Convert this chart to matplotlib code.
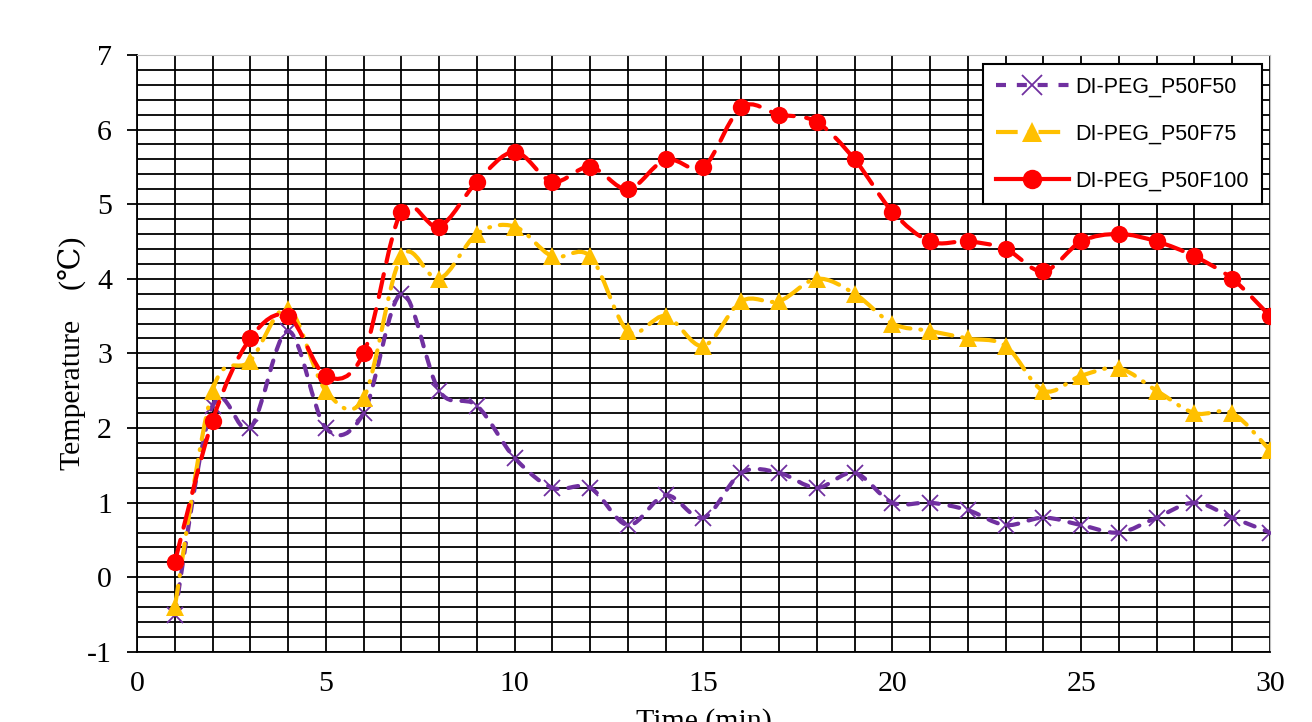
import numpy as np
import matplotlib
matplotlib.use("Agg")
import matplotlib.pyplot as plt
from matplotlib.path import Path
from matplotlib.patches import PathPatch
from matplotlib.lines import Line2D
from matplotlib.ticker import MultipleLocator

# データ
time_min = list(range(1, 31))
labels = ["DI-PEG_P50F50", "DI-PEG_P50F75", "DI-PEG_P50F100"]
p50f50 = [-0.5, 2.3, 2.0, 3.3, 2.0, 2.2, 3.8, 2.5, 2.3, 1.6,
          1.2, 1.2, 0.7, 1.1, 0.8, 1.4, 1.4, 1.2, 1.4, 1.0,
          1.0, 0.9, 0.7, 0.8, 0.7, 0.6, 0.8, 1.0, 0.8, 0.6]
p50f75 = [-0.4, 2.5, 2.9, 3.6, 2.5, 2.4, 4.3, 4.0, 4.6, 4.7,
          4.3, 4.3, 3.3, 3.5, 3.1, 3.7, 3.7, 4.0, 3.8, 3.4,
          3.3, 3.2, 3.1, 2.5, 2.7, 2.8, 2.5, 2.2, 2.2, 1.7]
p50f100 = [0.2, 2.1, 3.2, 3.5, 2.7, 3.0, 4.9, 4.7, 5.3, 5.7,
           5.3, 5.5, 5.2, 5.6, 5.5, 6.3, 6.2, 6.1, 5.6, 4.9,
           4.5, 4.5, 4.4, 4.1, 4.5, 4.6, 4.5, 4.3, 4.0, 3.5]

colors = ["#7030A0", "#FFC000", "#FF0000"]
markers = ["x", "^", "o"]
msizes = [12, 12.5, 12.5]
dashes = [(0, (2.4, 2.6)), (0, (5.2, 2.4, 0.2, 2.4)), (0, (5.6, 3.0))]

plt.rcParams["font.family"] = ["Liberation Serif", "DejaVu Serif"]
plt.rcParams["axes.unicode_minus"] = False


# Excel風のスムージング線（ベジェ曲線）
def smooth_path(x, y):
    pts = np.column_stack([x, y]).astype(float)
    ext = np.vstack([pts[0], pts, pts[-1]])
    verts = [pts[0]]
    codes = [Path.MOVETO]
    for i in range(len(pts) - 1):
        p0, p1, p2, p3 = ext[i], ext[i + 1], ext[i + 2], ext[i + 3]
        c1 = p1 + (p2 - p0) / 6.0
        c2 = p2 - (p3 - p1) / 6.0
        verts += [c1, c2, p2]
        codes += [Path.CURVE4] * 3
    return Path(verts, codes)


fig = plt.figure(figsize=(13.12, 7.22), dpi=100)
ax = fig.add_axes([0.1044, 0.097, 0.8636, 0.827])

ax.set_xlim(0, 30)
ax.set_ylim(-1, 7)
ax.xaxis.set_major_locator(MultipleLocator(5))
ax.xaxis.set_minor_locator(MultipleLocator(1))
ax.yaxis.set_major_locator(MultipleLocator(1))
ax.yaxis.set_minor_locator(MultipleLocator(0.2))
ax.grid(which="both", color="black", linewidth=1.3)
ax.set_axisbelow(True)

for s in ["top", "right"]:
    ax.spines[s].set_color("#bfbfbf")
for s in ["left", "bottom"]:
    ax.spines[s].set_color("black")
    ax.spines[s].set_linewidth(1.3)

ax.tick_params(axis="y", which="major", direction="out", length=7, width=1.3,
               pad=11, labelsize=21.5)
ax.tick_params(axis="y", which="minor", length=0)
ax.tick_params(axis="x", which="both", length=0, pad=14, labelsize=21.5)

series = [p50f50, p50f75, p50f100]
handles = []
for i, ys in enumerate(series):
    patch = PathPatch(smooth_path(time_min, ys), facecolor="none",
                      edgecolor=colors[i], linewidth=3.0, linestyle=dashes[i],
                      capstyle="round", zorder=3 + i)
    ax.add_patch(patch)
    ax.plot(time_min, ys, linestyle="none", marker=markers[i],
            markersize=msizes[i], color=colors[i],
            markeredgewidth=1.3 if markers[i] == "x" else 0,
            zorder=3 + i)
    handles.append(Line2D([], [], color=colors[i], linewidth=3.0,
                          linestyle=dashes[i] if i < 2 else "-",
                          marker=markers[i], markersize=14,
                          markeredgewidth=1.3 if markers[i] == "x" else 0))

leg = ax.legend(handles, labels, loc="upper right", bbox_to_anchor=(0.9965, 0.992),
                prop={"family": ["Liberation Sans", "DejaVu Sans"], "size": 15.5},
                frameon=True, fancybox=False, edgecolor="black",
                framealpha=1, borderpad=0.6, labelspacing=1.2,
                handlelength=3.4, handletextpad=0.3, borderaxespad=0.2)
leg.get_frame().set_linewidth(1.5)

ax.set_ylabel("Temperature    (\u2103)", fontsize=21.5, labelpad=1)
ax.set_xlabel("Time (min)", fontsize=21.5, labelpad=8)

fig.savefig("out.png", dpi=100)
